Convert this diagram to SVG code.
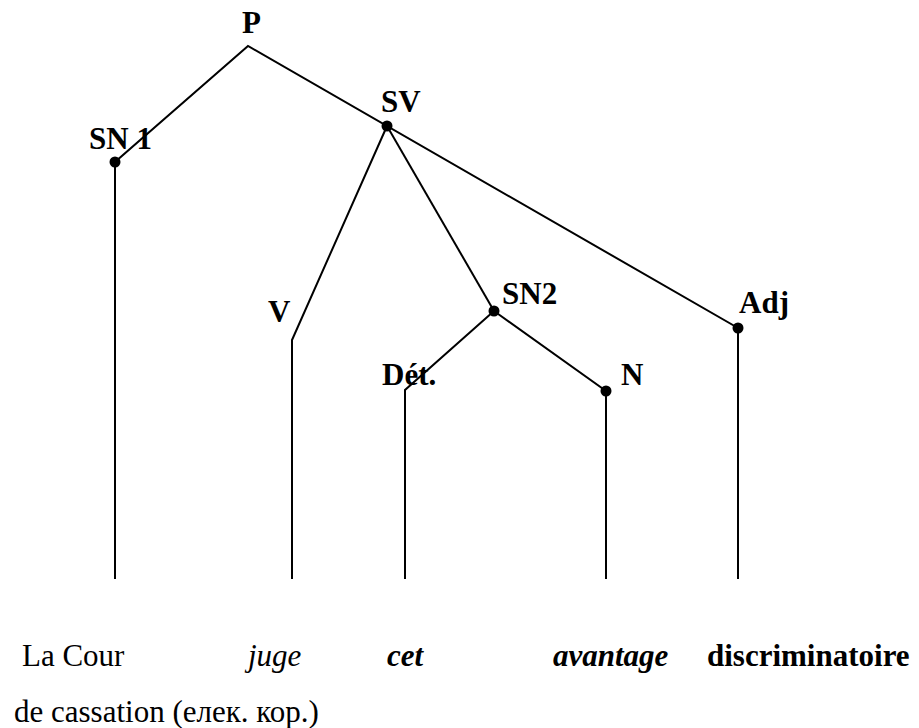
<svg xmlns="http://www.w3.org/2000/svg" width="919" height="728" viewBox="0 0 919 728">
  <style>
    .lbl { font-family: "Liberation Serif", "Times New Roman", serif; font-size: 31px; font-weight: bold; fill: #000; }
    .word { font-family: "Liberation Serif", "Times New Roman", serif; font-size: 31px; fill: #000; }
    .it { font-style: italic; }
    .bd { font-weight: bold; }
    .edge { fill: none; stroke: #000; stroke-width: 2; stroke-linejoin: miter; }
    .dot { fill: #000; }
  </style>
  <rect width="919" height="728" fill="#fff"/>

  <!-- branches of the tree -->
  <g id="connectors">
    <polyline class="edge" points="115,579 115,162 248,46 738,328 738,579"/>
    <polyline class="edge" points="387,126 292,340 292,579"/>
    <line class="edge" x1="387" y1="126" x2="494" y2="311"/>
    <polyline class="edge" points="494,311 405,390 405,579"/>
    <polyline class="edge" points="494,311 606,391 606,579"/>
  </g>

  <g id="node-P"><text class="lbl" x="242" y="33">P</text></g>
  <g id="node-SN1">
    <circle class="dot" cx="115" cy="162" r="5.5"/>
    <text class="lbl" x="89" y="149">SN 1</text>
  </g>
  <g id="node-SV">
    <circle class="dot" cx="387" cy="126" r="5.5"/>
    <text class="lbl" x="381" y="112">SV</text>
  </g>
  <g id="node-V"><text class="lbl" x="268" y="322">V</text></g>
  <g id="node-SN2">
    <circle class="dot" cx="494" cy="311" r="5.5"/>
    <text class="lbl" x="502" y="304">SN2</text>
  </g>
  <g id="node-Det"><text class="lbl" x="382" y="385">Dét.</text></g>
  <g id="node-N">
    <circle class="dot" cx="606" cy="391" r="5.5"/>
    <text class="lbl" x="621" y="385">N</text>
  </g>
  <g id="node-Adj">
    <circle class="dot" cx="738" cy="328" r="5.5"/>
    <text class="lbl" x="739" y="313">Adj</text>
  </g>

  <!-- sentence -->
  <g id="sentence">
    <text class="word" x="22" y="666">La Cour</text>
    <text class="word it" x="248" y="666">juge</text>
    <text class="word it bd" x="387" y="666">cet</text>
    <text class="word it bd" x="553" y="666">avantage</text>
    <text class="word bd" x="707" y="666">discriminatoire</text>
    <text class="word" x="14" y="722">de cassation (елек. кор.)</text>
  </g>
</svg>
